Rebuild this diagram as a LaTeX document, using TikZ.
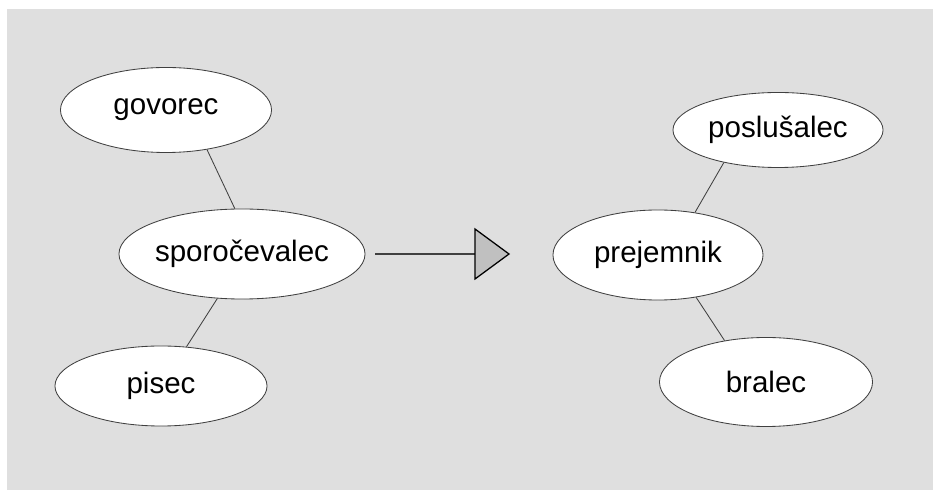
\documentclass[tikz,border=0pt]{standalone}
\usepackage{fontspec}
\setmainfont{Liberation Sans}
\definecolor{bggray}{HTML}{DFDFDF}
\definecolor{tipgray}{HTML}{C0C0C0}
\definecolor{edgegray}{HTML}{404040}
\usetikzlibrary{shapes.geometric}
\begin{document}
\begin{tikzpicture}[x=0.025cm,y=-0.025cm,
  role/.style={ellipse,draw=edgegray,line width=0.6pt,fill=white,inner sep=0pt,
    font=\fontsize{21}{25}\selectfont},
  link/.style={draw=edgegray,line width=0.6pt}]
\useasboundingbox (0,0) rectangle (933,490);
\fill [bggray] (7,9) rectangle (933,490);
\node [role,minimum width=5.275cm,minimum height=2.125cm] (gov) at (166,110) {govorec};
\node [role,minimum width=5.3cm,minimum height=2.25cm] (spo) at (242,254) {sporočevalec};
\node [role,minimum width=5.3cm,minimum height=2cm] (pis) at (161,386) {pisec};
\node [role,minimum width=5.25cm,minimum height=2.25cm] (pre) at (658,255) {prejemnik};
\node [role,minimum width=5.25cm,minimum height=1.875cm] (pos) at (778,130) {poslušalec};
\node [role,minimum width=5.325cm,minimum height=2.225cm] (bra) at (766,382) {bralec};
\draw [link] (gov.-44)--(spo.99);
\draw [link] (spo.-119)--(pis.57);
\draw [link] (pre.49)--(pos.-149);
\draw [link] (pre.-48)--(bra.135);
\coordinate (from) at (375,254);
\coordinate (tip) at (475,254);
\draw [edgegray,line width=1.2pt] (from)--(tip);
\filldraw [fill=tipgray,draw=black,line width=0.9pt,line join=miter] (475,229)--(509,254)--(475,279)--cycle;
\end{tikzpicture}
\end{document}
